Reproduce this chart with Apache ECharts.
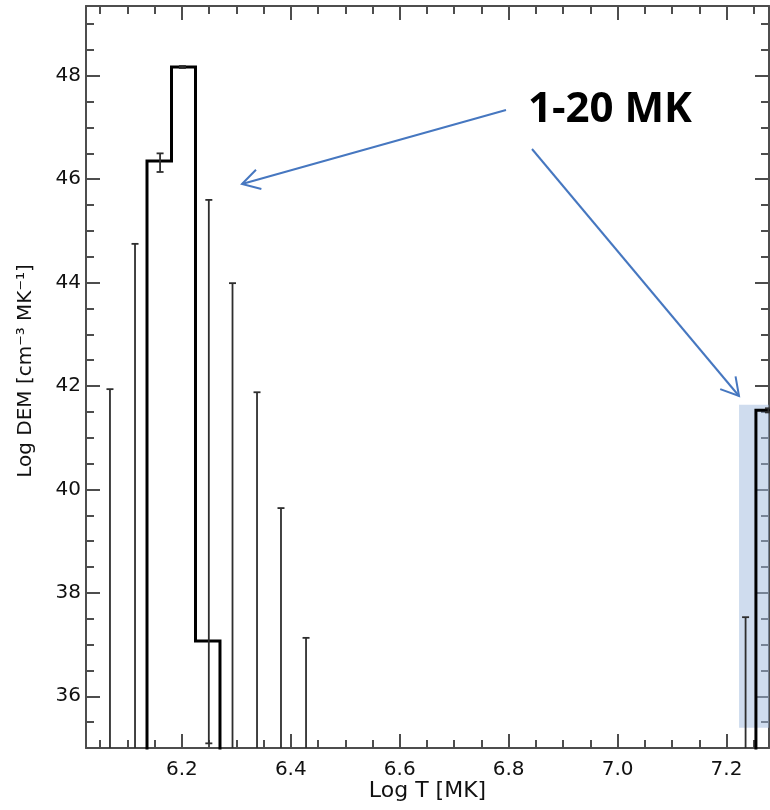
<!DOCTYPE html>
<html><head><meta charset="utf-8">
<script src="https://cdn.jsdelivr.net/npm/echarts@6/dist/echarts.min.js"></script>
<style>html,body{margin:0;padding:0;background:#fff}#c{width:770px;height:810px}</style>
</head><body><div id="c"></div>
<script>
// ---- axis ranges & ticks ----
const X_MIN = 6.024, X_MAX = 7.278;
const Y_MIN = 35.0, Y_MAX = 49.35;
const xMajorTicks = [6.2, 6.4, 6.6, 6.8, 7.0, 7.2];
const xTickLabels = ['6.2', '6.4', '6.6', '6.8', '7.0', '7.2'];
const xMinorTicks = [6.05, 6.10, 6.15, 6.25, 6.30, 6.35, 6.45, 6.50, 6.55, 6.65, 6.70, 6.75, 6.85, 6.90, 6.95, 7.05, 7.10, 7.15, 7.25];
const yMajorTicks = [36, 38, 40, 42, 44, 46, 48];
const yTickLabels = ['36', '38', '40', '42', '44', '46', '48'];
const yMinorTicks = [35.5, 36.5, 37, 37.5, 38.5, 39, 39.5, 40.5, 41, 41.5, 42.5, 43, 43.5, 44.5, 45, 45.5, 46.5, 47, 47.5, 48.5, 49];

// ---- DEM histogram (bin edges / values) ----
const coolBinEdges = [6.136, 6.181, 6.225, 6.270];
const coolBinValues = [46.35, 48.17, 37.07];
const hotBinEdges = [7.254, 7.299];
const hotBinValues = [41.53];
const floorValue = 30; // neighbouring bins lie below the plotted range

// ---- error bars ----
const errX    = [6.068, 6.114, 6.160, 6.201, 6.2495, 6.293, 6.338, 6.382, 6.428, 7.235, 7.277];
const errLow  = [30,    30,    46.14, 48.15, 35.09,  30,    30,    30,    30,    30,    41.49];
const errHigh = [41.94, 44.75, 46.50, 48.19, 45.60,  43.99, 41.88, 39.64, 37.13, 37.53, 41.57];

// ---- highlighted region ----
const shadeX = [7.223, 7.30];
const shadeY = [35.39, 41.64];

const annotationText = '1-20 MK';

function stepPoints(edges, values) {
  const pts = [[edges[0], floorValue]];
  for (let i = 0; i < values.length; i++) {
    pts.push([edges[i], values[i]]);
    pts.push([edges[i + 1], values[i]]);
  }
  pts.push([edges[edges.length - 1], floorValue]);
  return pts;
}

const AX = '#4d4d4d';
const FONT = 'DejaVu Sans';
function labelFor(ticks, labels) {
  return function (v) {
    for (let i = 0; i < ticks.length; i++) if (Math.abs(ticks[i] - v) < 1e-6) return labels[i];
    return '';
  };
}
function xAx(pos, major, withLabel) {
  const o = {
    type: 'value', position: pos, min: X_MIN, max: X_MAX,
    axisLine: { show: major, lineStyle: { color: AX, width: 2 } },
    axisTick: { show: true, inside: true, length: major ? 14 : 8,
      customValues: major ? xMajorTicks : xMinorTicks, lineStyle: { color: AX, width: 2 } },
    axisLabel: { show: withLabel, customValues: xMajorTicks, formatter: labelFor(xMajorTicks, xTickLabels),
      margin: 12, color: '#111', fontFamily: FONT, fontSize: 20 },
    splitLine: { show: false }, minorTick: { show: false }
  };
  if (withLabel) {
    o.name = 'Log T [MK]'; o.nameLocation = 'middle'; o.nameGap = 32; o.nameMoveOverlap = false;
    o.nameTextStyle = { color: '#111', fontFamily: FONT, fontSize: 22 };
  }
  return o;
}
function yAx(pos, major, withLabel) {
  const o = {
    type: 'value', position: pos, min: Y_MIN, max: Y_MAX,
    axisLine: { show: major, lineStyle: { color: AX, width: 2 } },
    axisTick: { show: true, inside: true, length: major ? 14 : 8,
      customValues: major ? yMajorTicks : yMinorTicks, lineStyle: { color: AX, width: 2 } },
    axisLabel: { show: withLabel, customValues: yMajorTicks, formatter: labelFor(yMajorTicks, yTickLabels),
      margin: 5, color: '#111', fontFamily: FONT, fontSize: 20 },
    splitLine: { show: false }, minorTick: { show: false }
  };
  if (withLabel) {
    o.name = 'Log DEM [cm\u207B\u00B3 MK\u207B\u00B9]'; o.nameLocation = 'middle'; o.nameGap = 50; o.nameMoveOverlap = false;
    o.nameTextStyle = { color: '#111', fontFamily: FONT, fontSize: 20, padding: [0, 0, 0, 12] };
  }
  return o;
}

function renderErr(params, api) {
  const x = api.value(0), lo = api.value(1), hi = api.value(2);
  const cs = params.coordSys;
  const top = api.coord([x, hi]), bot = api.coord([x, lo]);
  const yTop = Math.max(top[1], cs.y), yBot = Math.min(bot[1], cs.y + cs.height);
  const st = { stroke: '#2e2e2e', lineWidth: 1.8 };
  const ch = [{ type: 'line', shape: { x1: top[0], y1: yTop, x2: top[0], y2: yBot }, style: st }];
  if (top[1] >= cs.y) ch.push({ type: 'line', shape: { x1: top[0] - 3.5, y1: top[1], x2: top[0] + 3.5, y2: top[1] }, style: st });
  if (bot[1] <= cs.y + cs.height) ch.push({ type: 'line', shape: { x1: bot[0] - 3.5, y1: bot[1], x2: bot[0] + 3.5, y2: bot[1] }, style: st });
  return { type: 'group', children: ch };
}

function arrow(x1, y1, x2, y2) {
  const ang = Math.atan2(y1 - y2, x1 - x2), L = 20, a = Math.PI / 6;
  const st = { stroke: '#4677c0', lineWidth: 2 };
  return {
    type: 'group', children: [
      { type: 'line', shape: { x1: x1, y1: y1, x2: x2, y2: y2 }, style: st },
      { type: 'polyline', shape: { points: [
        [x2 + L * Math.cos(ang + a), y2 + L * Math.sin(ang + a)], [x2, y2],
        [x2 + L * Math.cos(ang - a), y2 + L * Math.sin(ang - a)]] }, style: Object.assign({ fill: null }, st) }
    ]
  };
}

const chart = echarts.init(document.getElementById('c'), null, { renderer: 'canvas' });
chart.setOption({
  backgroundColor: '#fff',
  animation: false,
  grid: { left: 86, right: 1, top: 6, bottom: 62, containLabel: false, outerBoundsMode: 'none' },
  xAxis: [xAx('bottom', true, true), xAx('bottom', false, false), xAx('top', true, false), xAx('top', false, false)],
  yAxis: [yAx('left', true, true), yAx('left', false, false), yAx('right', true, false), yAx('right', false, false)],
  series: [
    {
      type: 'line', xAxisIndex: 0, yAxisIndex: 0, data: stepPoints(hotBinEdges, hotBinValues),
      symbol: 'none', clip: true, lineStyle: { color: '#000', width: 3, join: 'miter' }, z: 3,
      markArea: { silent: true, itemStyle: { color: 'rgba(159,185,221,0.5)' },
        data: [[{ xAxis: shadeX[0], yAxis: shadeY[0] }, { xAxis: shadeX[1], yAxis: shadeY[1] }]] }
    },
    {
      type: 'line', xAxisIndex: 0, yAxisIndex: 0, data: stepPoints(coolBinEdges, coolBinValues),
      symbol: 'none', clip: true, lineStyle: { color: '#000', width: 3, join: 'miter' }, z: 3
    },
    {
      type: 'custom', xAxisIndex: 0, yAxisIndex: 0, renderItem: renderErr, z: 4,
      encode: { x: 0, y: [1, 2] },
      data: errX.map((x, i) => [x, errLow[i], errHigh[i]])
    }
  ],
  graphic: [
    { type: 'text', x: 528, y: 110, z: 10, style: { text: annotationText, fill: '#000',
      fontFamily: 'Open Sans', fontWeight: 'bold', fontSize: 42, verticalAlign: 'middle' } },
    Object.assign(arrow(506, 110, 242, 184), { z: 10 }),
    Object.assign(arrow(532, 149, 739, 396), { z: 10 })
  ]
});
</script></body></html>
